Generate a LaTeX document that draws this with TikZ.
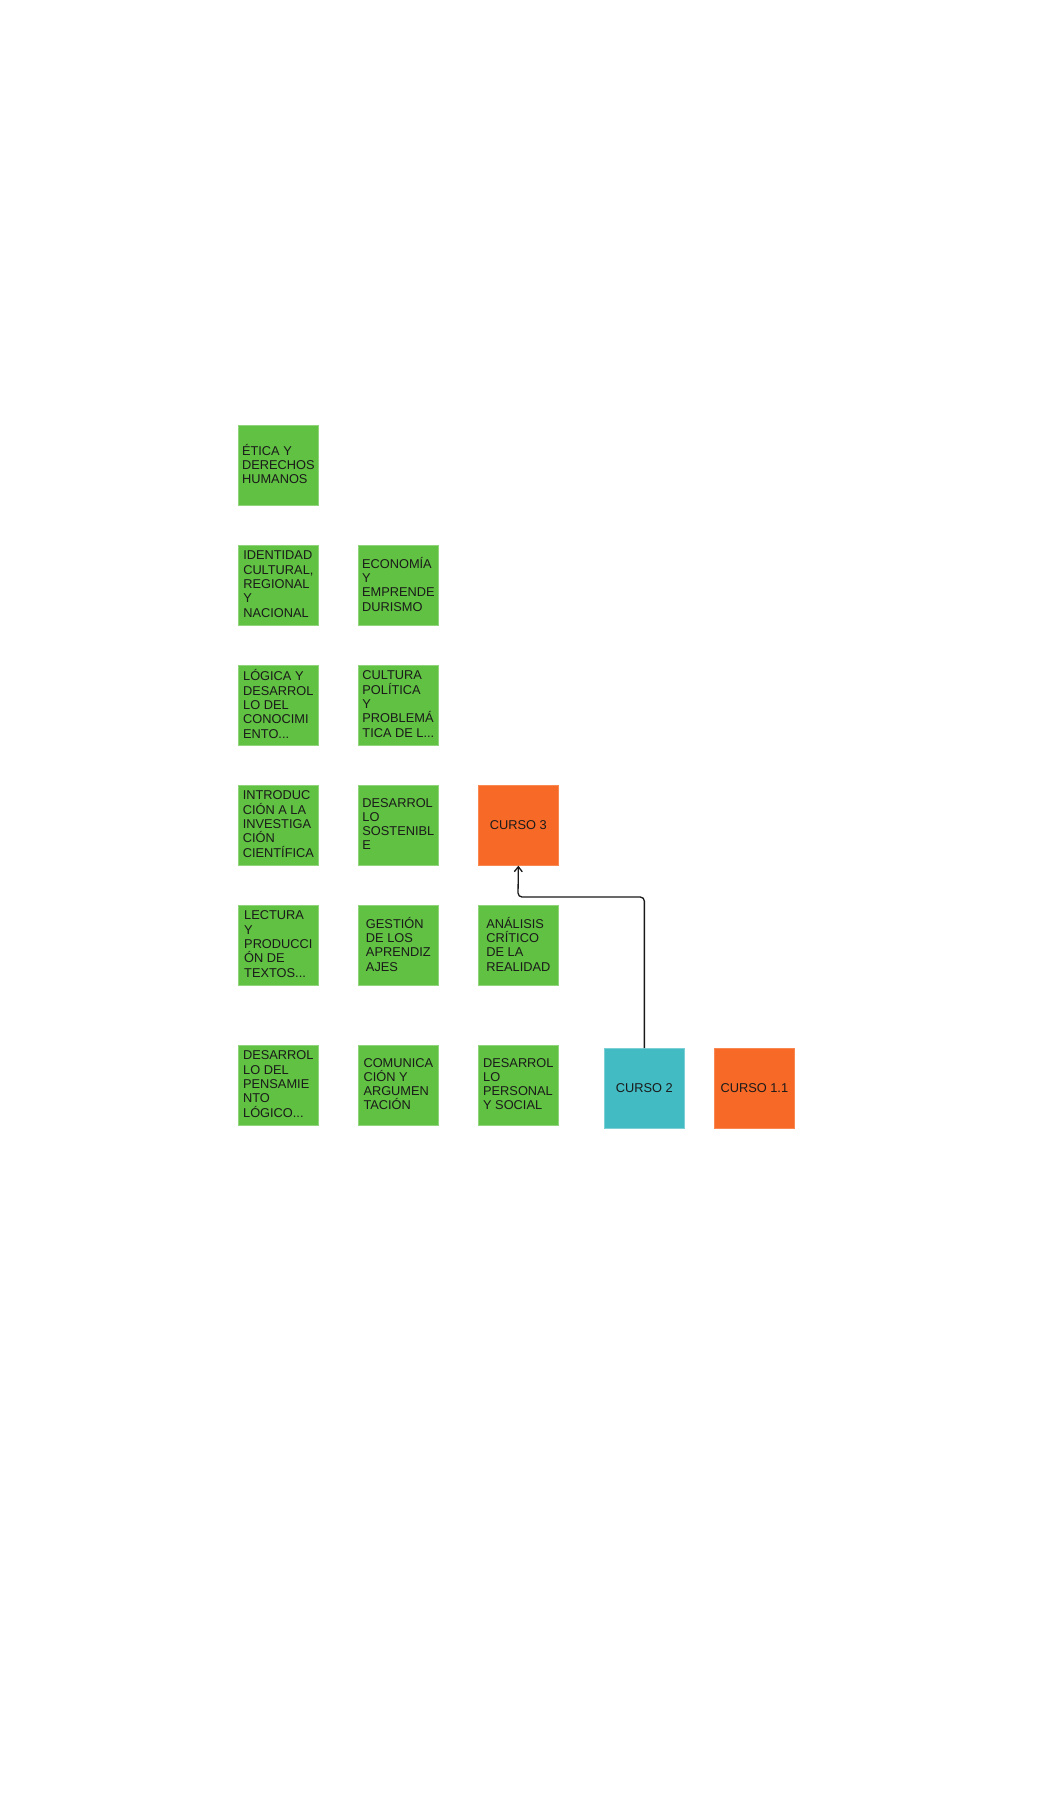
\documentclass[tikz,border=0pt]{standalone}
\usepackage{fontspec}
\setmainfont{Liberation Sans}
\usetikzlibrary{arrows.meta}
\definecolor{notegreen}{HTML}{60C142}
\definecolor{noteorange}{HTML}{F76927}
\definecolor{noteteal}{HTML}{42BBC3}
\definecolor{notetext}{HTML}{1A1A1A}
\newcommand\cardtopstrut{\leavevmode\vrule width 0pt height 11.5pt depth 0pt}
\newcommand\cardbotstrut{\vrule width 0pt height 0pt depth 2.7pt}
\tikzset{
  card/.style={anchor=north west, minimum width=80pt, minimum height=80pt, inner sep=0pt,
    align=left, text=notetext, font=\fontsize{12.8}{14.3}\selectfont,
    execute at begin node=\cardtopstrut, execute at end node=\cardbotstrut},
  gcard/.style={card, fill=notegreen, draw=notegreen!70!white, line width=0.7pt},
  ocard/.style={card, fill=noteorange, draw=noteorange!80!white, line width=0.7pt},
  tcard/.style={card, fill=noteteal, draw=noteteal!70!white, line width=0.7pt},
  conn/.style={draw=black!90, line width=1.3pt, rounded corners=4pt, -{Straight Barb[length=5pt,width=8pt]}}
}
\begin{document}
\begin{tikzpicture}[x=1pt,y=-1pt]
\useasboundingbox (0,0) rectangle (1037,1800);
\fill[white] (0,0) rectangle (1037,1800);
% row 1
\node[gcard] (etica) at (238,425) {ÉTICA Y\\DERECHOS\\HUMANOS};
% row 2
\node[gcard] (identidad) at (238,545) {IDENTIDAD\\CULTURAL,\\REGIONAL\\Y\\NACIONAL};
\node[gcard] (economia) at (358,545) {ECONOMÍA\\Y\\EMPRENDE\\DURISMO};
% row 3
\node[gcard] (logica) at (238,665) {LÓGICA Y\\DESARROL\\LO DEL\\CONOCIMI\\ENTO...};
\node[gcard] (cultura) at (358,665) {CULTURA\\POLÍTICA\\Y\\PROBLEMÁ\\TICA DE L...};
% row 4
\node[gcard] (intro) at (238,785) {INTRODUC\\CIÓN A LA\\INVESTIGA\\CIÓN\\CIENTÍFICA};
\node[gcard] (sostenible) at (358,785) {DESARROL\\LO\\SOSTENIBL\\E};
\node[ocard] (curso3) at (478,785) {CURSO 3};
% row 5
\node[gcard] (lectura) at (238,905) {LECTURA\\Y\\PRODUCCI\\ÓN DE\\TEXTOS...};
\node[gcard] (gestion) at (358,905) {GESTIÓN\\DE LOS\\APRENDIZ\\AJES};
\node[gcard] (analisis) at (478,905) {ANÁLISIS\\CRÍTICO\\DE LA\\REALIDAD};
% row 6
\node[gcard] (pensamiento) at (238,1045) {DESARROL\\LO DEL\\PENSAMIE\\NTO\\LÓGICO...};
\node[gcard] (comunicacion) at (358,1045) {COMUNICA\\CIÓN Y\\ARGUMEN\\TACIÓN};
\node[gcard] (personal) at (478,1045) {DESARROL\\LO\\PERSONAL\\Y SOCIAL};
\node[tcard] (curso2) at (604,1048) {CURSO 2};
\node[ocard] (curso11) at (714,1048) {CURSO 1.1};
% connector
\coordinate (bend) at (518,897);
\draw[conn] (curso2.north) |- (bend) -- (curso3.south);
\end{tikzpicture}
\end{document}
